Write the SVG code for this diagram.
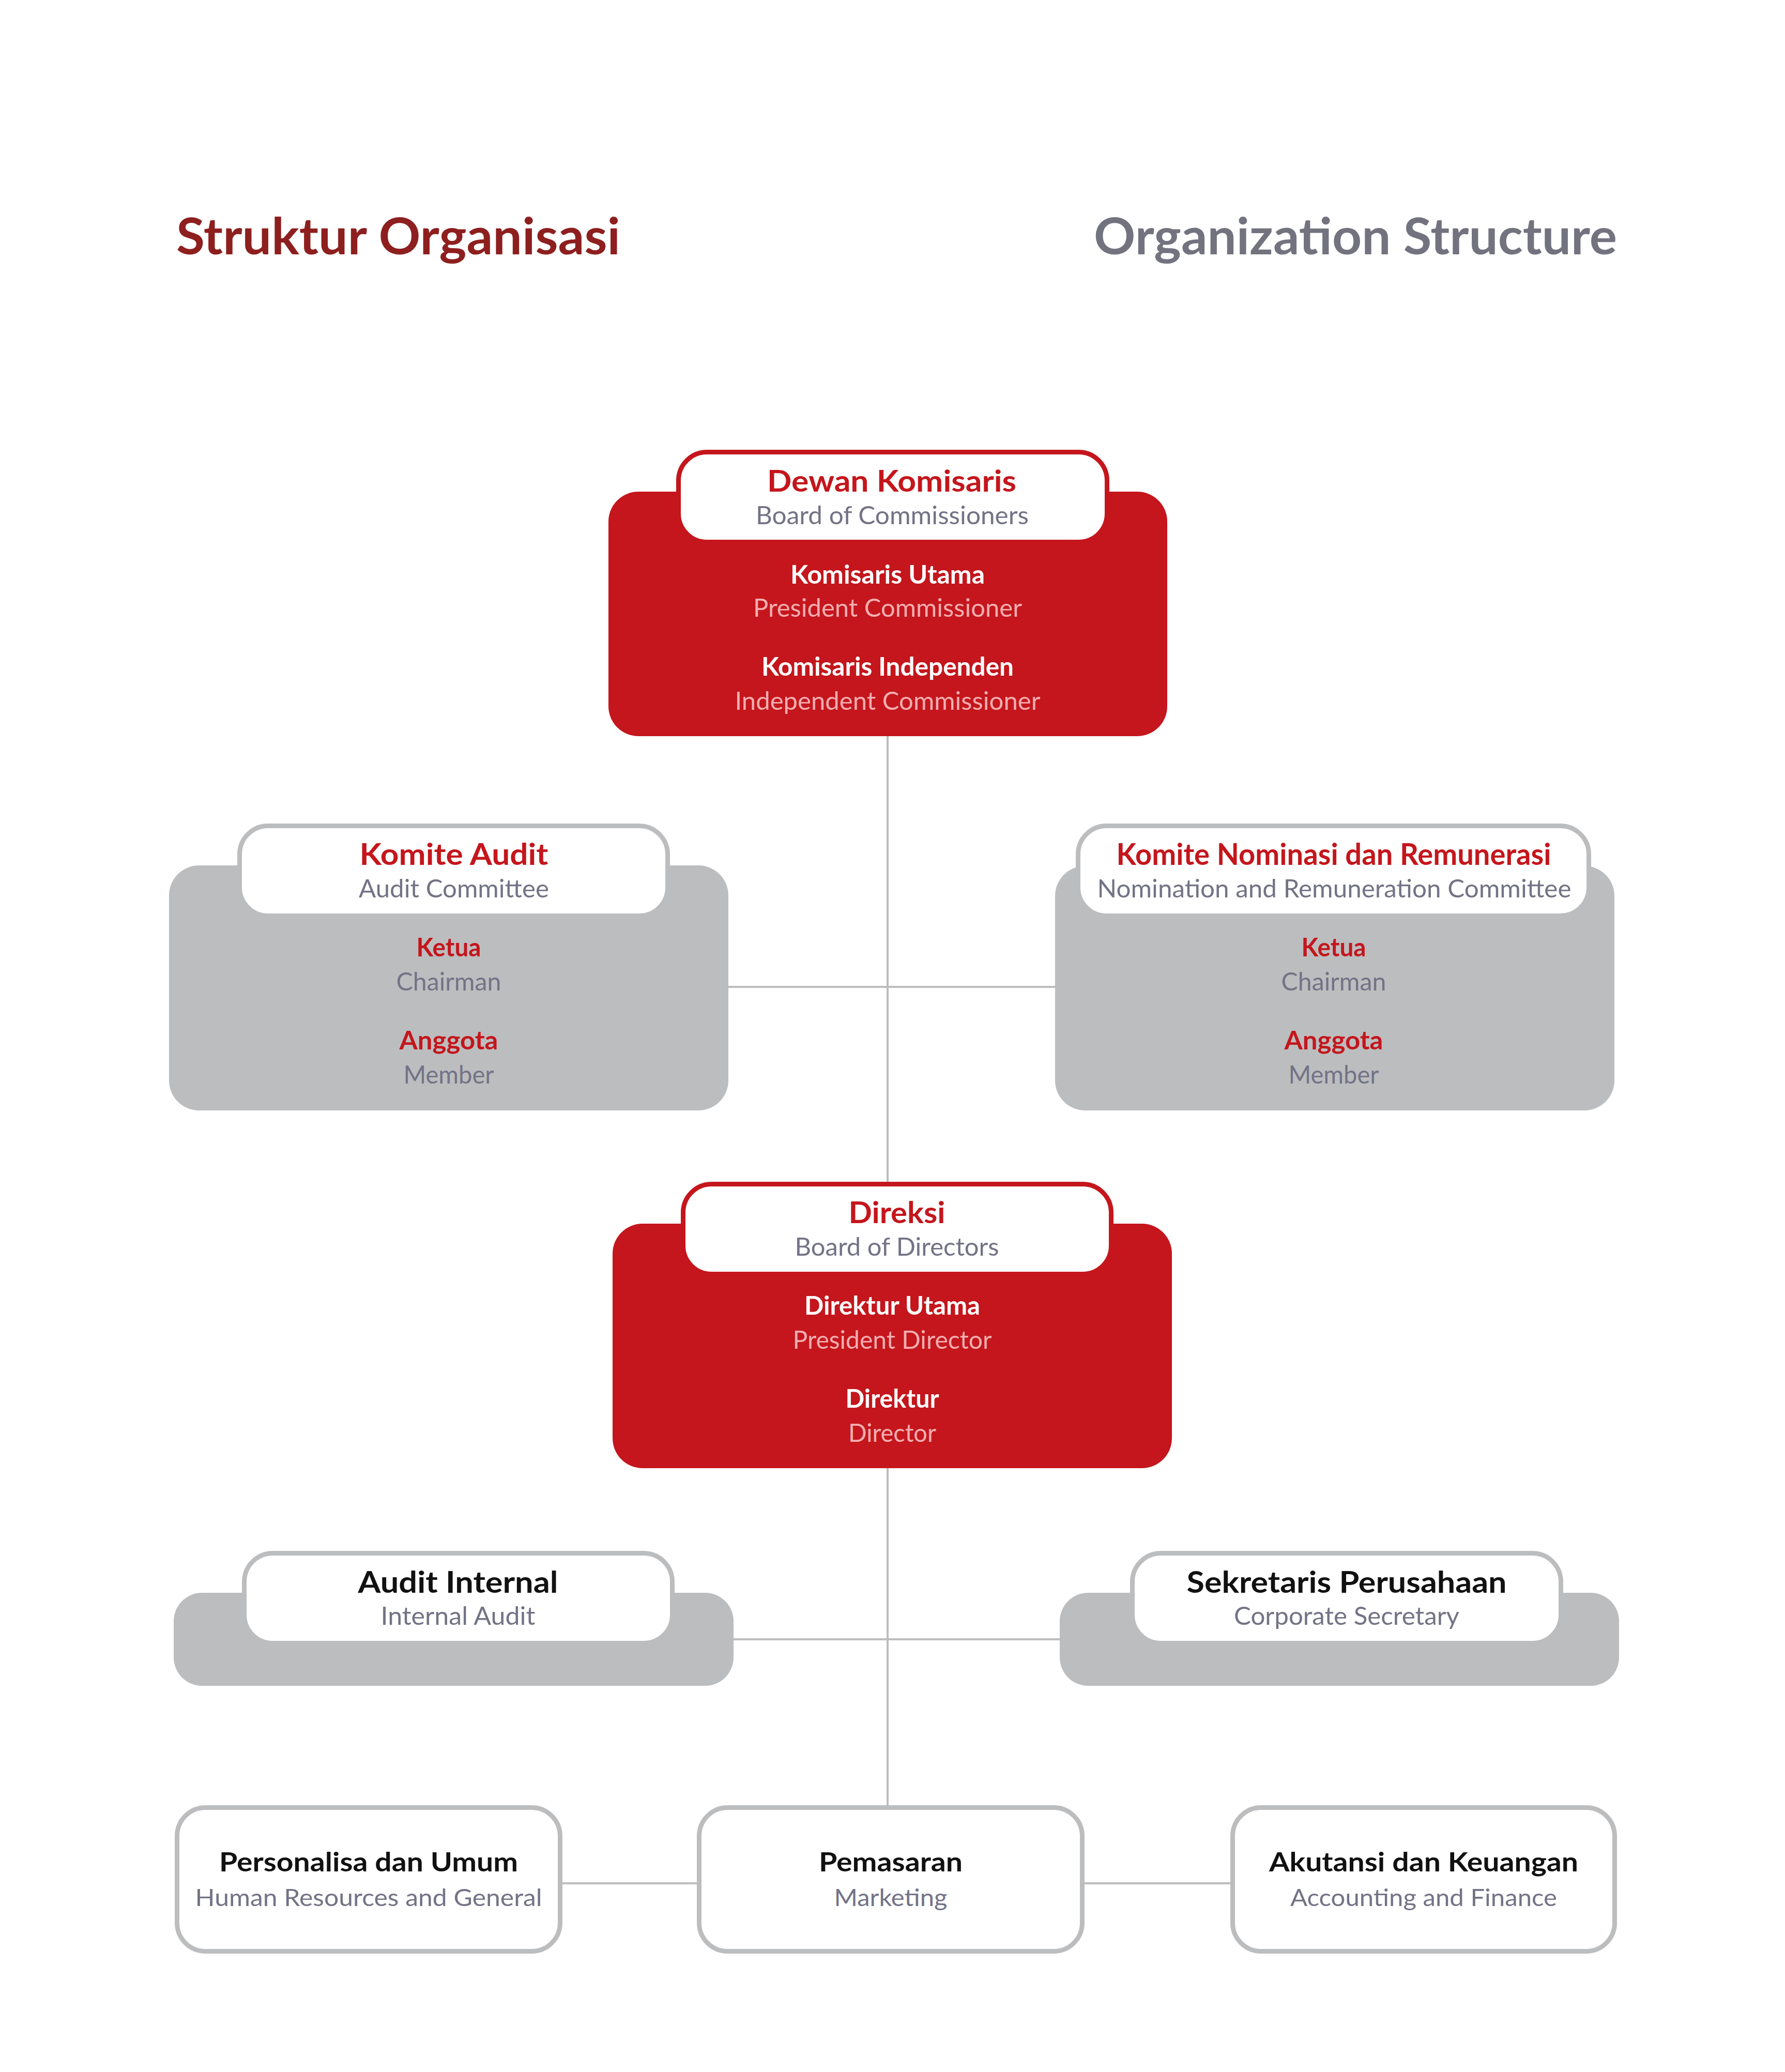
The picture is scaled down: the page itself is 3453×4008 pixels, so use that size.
<svg xmlns="http://www.w3.org/2000/svg" width="3453" height="4008" viewBox="0 0 3453 4008">
<style>
text{font-family:Lato,"Open Sans","Liberation Sans",sans-serif;text-anchor:middle}
.t-title{font-size:97px;font-weight:700}
.h-main{font-size:58px;font-weight:700}
.h-sub{font-size:48px;font-weight:400;fill:#737386}
.b-main{font-size:49px;font-weight:700}
.b-sub{font-size:48px;font-weight:400}
.r-main{font-size:52px;font-weight:700;fill:#111111}
.r-sub{font-size:47px;font-weight:400;fill:#737386}
.red{fill:#C4161C}
.gray{fill:#BCBDBF}
.tab-red{fill:#FFFFFF;stroke:#C4161C;stroke-width:9}
.tab-gray{fill:#FFFFFF;stroke:#BCBDBF;stroke-width:9}
.wht{fill:#FFFFFF}
.pink{fill:#F5AEB1}
.gtx{fill:#737386}
.rtx{fill:#C4161C}
.btx{fill:#111111}
.conn{stroke:#BDBDBD;stroke-width:4;fill:none}
</style>
<rect width="3453" height="4008" fill="#FFFFFF"/>
<g id="titles">
<text class="t-title" x="341" y="492" style="text-anchor:start" fill="#8E1F1F" textLength="859" lengthAdjust="spacingAndGlyphs">Struktur Organisasi</text>
<text class="t-title" x="3128" y="492" style="text-anchor:end" fill="#737380" textLength="1012" lengthAdjust="spacingAndGlyphs">Organization Structure</text>
</g>
<g id="connectors">
<line class="conn" x1="1717" y1="1424" x2="1717" y2="2290"/>
<line class="conn" x1="1409" y1="1909" x2="2041" y2="1909"/>
<line class="conn" x1="1717" y1="2840" x2="1717" y2="3494"/>
<line class="conn" x1="1419" y1="3171" x2="2050" y2="3171"/>
<line class="conn" x1="1088" y1="3643" x2="1348" y2="3643"/>
<line class="conn" x1="2098" y1="3643" x2="2380" y2="3643"/>
</g>
<g id="dewan-komisaris">
<rect class="red" x="1177" y="951" width="1081" height="473" rx="58"/>
<rect class="tab-red" x="1312.5" y="874.5" width="829" height="174" rx="55"/>
<text class="h-main rtx" x="1725" y="951" textLength="482" lengthAdjust="spacingAndGlyphs">Dewan Komisaris</text>
<text class="h-sub" x="1726" y="1014" textLength="528" lengthAdjust="spacingAndGlyphs">Board of Commissioners</text>
<text class="b-main wht" x="1717" y="1129" textLength="376" lengthAdjust="spacingAndGlyphs">Komisaris Utama</text>
<text class="b-sub pink" x="1717" y="1193" textLength="520" lengthAdjust="spacingAndGlyphs">President Commissioner</text>
<text class="b-main wht" x="1717" y="1307" textLength="488" lengthAdjust="spacingAndGlyphs">Komisaris Independen</text>
<text class="b-sub pink" x="1717" y="1373" textLength="591" lengthAdjust="spacingAndGlyphs">Independent Commissioner</text>
</g>
<g id="komite-audit">
<rect class="gray" x="327" y="1674" width="1082" height="474" rx="58"/>
<rect class="tab-gray" x="463.5" y="1597.5" width="828" height="174" rx="55"/>
<text class="h-main rtx" x="878" y="1673" textLength="365" lengthAdjust="spacingAndGlyphs">Komite Audit</text>
<text class="h-sub" x="878" y="1736" textLength="368" lengthAdjust="spacingAndGlyphs">Audit Committee</text>
<text class="b-main rtx" x="868" y="1850" textLength="125" lengthAdjust="spacingAndGlyphs">Ketua</text>
<text class="b-sub gtx" x="868" y="1916" textLength="203" lengthAdjust="spacingAndGlyphs">Chairman</text>
<text class="b-main rtx" x="868" y="2030" textLength="191" lengthAdjust="spacingAndGlyphs">Anggota</text>
<text class="b-sub gtx" x="868" y="2096" textLength="175" lengthAdjust="spacingAndGlyphs">Member</text>
</g>
<g id="komite-nominasi">
<rect class="gray" x="2041" y="1675" width="1082" height="473" rx="58"/>
<rect class="tab-gray" x="2085.5" y="1597.5" width="988" height="174" rx="55"/>
<text class="h-main rtx" x="2580" y="1673" textLength="841" lengthAdjust="spacingAndGlyphs">Komite Nominasi dan Remunerasi</text>
<text class="h-sub" x="2581" y="1736" textLength="917" lengthAdjust="spacingAndGlyphs">Nomination and Remuneration Committee</text>
<text class="b-main rtx" x="2580" y="1850" textLength="125" lengthAdjust="spacingAndGlyphs">Ketua</text>
<text class="b-sub gtx" x="2580" y="1916" textLength="203" lengthAdjust="spacingAndGlyphs">Chairman</text>
<text class="b-main rtx" x="2580" y="2030" textLength="191" lengthAdjust="spacingAndGlyphs">Anggota</text>
<text class="b-sub gtx" x="2580" y="2096" textLength="175" lengthAdjust="spacingAndGlyphs">Member</text>
</g>
<g id="direksi">
<rect class="red" x="1185" y="2367" width="1082" height="473" rx="58"/>
<rect class="tab-red" x="1321.5" y="2290.5" width="828" height="174" rx="55"/>
<text class="h-main rtx" x="1735" y="2366" textLength="187" lengthAdjust="spacingAndGlyphs">Direksi</text>
<text class="h-sub" x="1735" y="2429" textLength="395" lengthAdjust="spacingAndGlyphs">Board of Directors</text>
<text class="b-main wht" x="1726" y="2543" textLength="340" lengthAdjust="spacingAndGlyphs">Direktur Utama</text>
<text class="b-sub pink" x="1726" y="2609" textLength="385" lengthAdjust="spacingAndGlyphs">President Director</text>
<text class="b-main wht" x="1726" y="2723" textLength="181" lengthAdjust="spacingAndGlyphs">Direktur</text>
<text class="b-sub pink" x="1726" y="2789" textLength="170" lengthAdjust="spacingAndGlyphs">Director</text>
</g>
<g id="audit-internal">
<rect class="gray" x="336" y="3081" width="1083" height="180" rx="55"/>
<rect class="tab-gray" x="472.5" y="3004.5" width="828" height="174" rx="55"/>
<text class="h-main btx" x="886" y="3081" textLength="387" lengthAdjust="spacingAndGlyphs">Audit Internal</text>
<text class="h-sub" x="886" y="3143" textLength="299" lengthAdjust="spacingAndGlyphs">Internal Audit</text>
</g>
<g id="sekretaris-perusahaan">
<rect class="gray" x="2050" y="3081" width="1082" height="180" rx="55"/>
<rect class="tab-gray" x="2190.5" y="3004.5" width="829" height="174" rx="55"/>
<text class="h-main btx" x="2605" y="3081" textLength="619" lengthAdjust="spacingAndGlyphs">Sekretaris Perusahaan</text>
<text class="h-sub" x="2605" y="3143" textLength="436" lengthAdjust="spacingAndGlyphs">Corporate Secretary</text>
</g>
<g id="personalia">
<rect class="tab-gray" x="342.5" y="3496.5" width="741" height="278" rx="55"/>
<text class="r-main" x="713" y="3620" textLength="578" lengthAdjust="spacingAndGlyphs">Personalisa dan Umum</text>
<text class="r-sub" x="713" y="3687" textLength="671" lengthAdjust="spacingAndGlyphs">Human Resources and General</text>
</g>
<g id="pemasaran">
<rect class="tab-gray" x="1352.5" y="3496.5" width="741" height="278" rx="55"/>
<text class="r-main" x="1723" y="3620" textLength="278" lengthAdjust="spacingAndGlyphs">Pemasaran</text>
<text class="r-sub" x="1723" y="3687" textLength="219" lengthAdjust="spacingAndGlyphs">Marketing</text>
</g>
<g id="akutansi">
<rect class="tab-gray" x="2384.5" y="3496.5" width="739" height="278" rx="55"/>
<text class="r-main" x="2754" y="3620" textLength="598" lengthAdjust="spacingAndGlyphs">Akutansi dan Keuangan</text>
<text class="r-sub" x="2754" y="3687" textLength="516" lengthAdjust="spacingAndGlyphs">Accounting and Finance</text>
</g>
</svg>
